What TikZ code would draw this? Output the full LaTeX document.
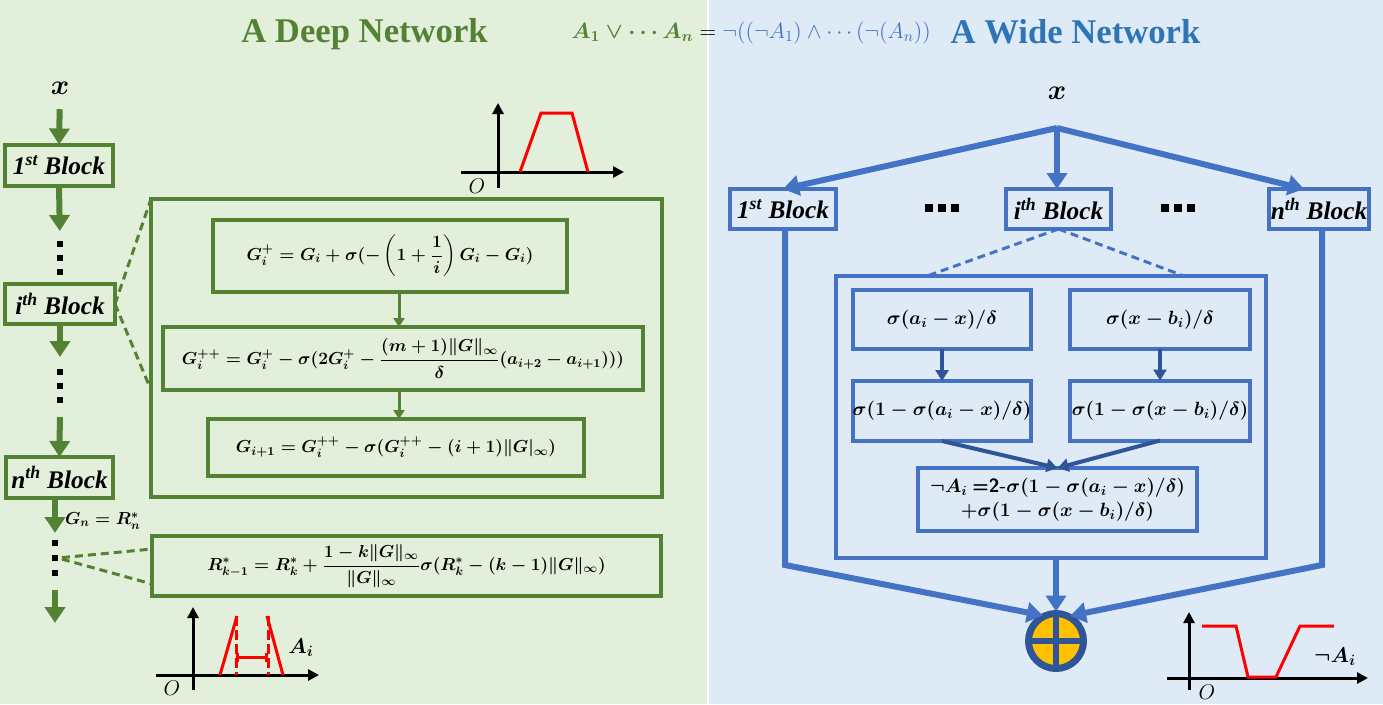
\RequirePackage{fix-cm}
\documentclass[tikz,border=0pt]{standalone}
\usepackage{amsmath,amssymb}
\usepackage{xcolor}
\usepackage{fontspec}
\setmainfont{Liberation Serif}
\usepackage{tikz}
\usetikzlibrary{arrows.meta}
\usetikzlibrary{positioning}

\newdimen\pxu
\pxu=0.75pt

\definecolor{deepgreen}{RGB}{84,130,53}
\definecolor{greenbg}{RGB}{226,239,218}
\definecolor{bluebg}{RGB}{222,235,247}
\definecolor{wideblue}{RGB}{68,114,196}
\definecolor{titleblue}{RGB}{46,117,182}
\definecolor{darkblue}{RGB}{47,85,151}
\definecolor{sumgold}{RGB}{255,192,0}

\begin{document}
\begin{tikzpicture}[
  x=0.75pt, y=-0.75pt,
  every node/.style={inner sep=0pt, outer sep=0pt},
  gbox/.style={draw=deepgreen, line width=4\pxu},
  bbox/.style={draw=wideblue, line width=4\pxu},
  blocklbl/.style={font=\fontsize{19}{22}\selectfont\bfseries\itshape},
  geq/.style={font=\fontsize{13}{16}\selectfont\boldmath},
  beq/.style={font=\fontsize{14.4}{17}\selectfont\boldmath},
  gthick/.style={draw=deepgreen, line width=6\pxu, -{Triangle[width=15pt,length=12pt]}},
  gthin/.style={draw=deepgreen, line width=3\pxu, -{Triangle[width=8.25pt,length=6.75pt]}},
  gdash/.style={draw=deepgreen, line width=3\pxu, dash pattern=on 8\pxu off 5\pxu},
  bdash/.style={draw=wideblue, line width=3\pxu, dash pattern=on 8\pxu off 5\pxu},
  bthick/.style={draw=wideblue, line width=6\pxu, -{Triangle[width=15pt,length=12pt]}},
  bthin/.style={draw=darkblue, line width=4\pxu, -{Triangle[width=9.75pt,length=8.25pt]}},
  sqdot/.style={fill=black, minimum size=6\pxu},
  axis/.style={draw=black, line width=3\pxu, -{Triangle[width=8.25pt,length=8.25pt]}},
  curve/.style={draw=red, line width=3\pxu},
  plotlbl/.style={font=\fontsize{16}{18}\selectfont},
]
\useasboundingbox (0,0) rectangle (1383,704);
\fill[greenbg] (0,0) rectangle (707,704);
\fill[white] (707,0) rectangle (709,704);
\fill[bluebg] (709,0) rectangle (1383,704);

% titles
\node[anchor=base, text=deepgreen, font=\fontsize{26}{30}\selectfont\bfseries] (deeptitle) at (364.5,42) {A Deep Network};
\node[anchor=base, text=titleblue, font=\fontsize{26}{30}\selectfont\bfseries] (widetitle) at (1075.5,43) {A Wide Network};
\node[font=\fontsize{16.6}{19}\selectfont] (logic) at (751,33)
  {$\textcolor{deepgreen}{\boldsymbol{A_1\vee\cdots A_n}} = \textcolor{wideblue}{\neg((\neg A_1)\wedge\cdots(\neg(A_n))}$};

% deep network
\node[font=\fontsize{21}{24}\selectfont\boldmath] (xin) at (60,88) {$x$};
\node[gbox, blocklbl, minimum width=108\pxu, minimum height=41\pxu] (blk1) at (59,165) {1\textsuperscript{st} Block};
\node[gbox, blocklbl, minimum width=110\pxu, minimum height=40\pxu] (blki) at (60,304) {i\textsuperscript{th} Block};
\node[gbox, blocklbl, minimum width=107\pxu, minimum height=41\pxu] (blkn) at (59.5,477.5) {n\textsuperscript{th} Block};
\foreach \k/\yy in {1/244,2/258,3/272} \node[sqdot] (dA\k) at (60,\yy) {};
\foreach \k/\yy in {1/372,2/386,3/400} \node[sqdot] (dB\k) at (60,\yy) {};
\foreach \k/\yy in {1/543,2/558,3/573} \node[sqdot] (dC\k) at (55,\yy) {};
\coordinate (gend) at (55,623);

\draw[gthick, shorten <=15\pxu] (xin.south) -- (blk1.north);
\draw[gthick, shorten >=10\pxu] (blk1.south) -- (dA1.north);
\draw[gthick, shorten >=12\pxu] (blki.south) -- (dB1.north);
\draw[gthick, shorten <=14\pxu] (dB3.south) -- (blkn.north);
\draw[gthick, shorten >=7\pxu] (dC1.north |- blkn.south) -- (dC1.north);
\draw[gthick, shorten <=14\pxu] (dC3.south) -- (gend);
\node[geq, anchor=west] (gnlbl) at (65,521) {$G_n = R_n^*$};

\node[gbox, minimum width=511\pxu, minimum height=298\pxu] (gfrm) at (406.5,348) {};
\node[gbox, geq, minimum width=354\pxu, minimum height=72\pxu] (eq1) at (390,256)
  {$G_i^+ = G_i + \sigma(-\left(1+\dfrac{1}{i}\right)G_i - G_i)$};
\node[gbox, geq, minimum width=480\pxu, minimum height=63\pxu] (eq2) at (403,358.5)
  {$G_i^{++} = G_i^+ - \sigma(2G_i^+ - \dfrac{(m+1)\|G\|_\infty}{\delta}(a_{i+2} - a_{i+1})))$};
\node[gbox, geq, minimum width=376\pxu, minimum height=57\pxu] (eq3) at (396,447.5)
  {$G_{i+1} = G_i^{++} - \sigma(G_i^{++} - (i+1)\|G|_\infty)$};
\node[gbox, geq, minimum width=509\pxu, minimum height=60\pxu] (rfrm) at (406.5,566)
  {$R^*_{k-1} = R^*_k + \dfrac{1-k\|G\|_\infty}{\|G\|_\infty}\sigma(R^*_k - (k-1)\|G\|_\infty)$};
\draw[gthin] (eq1.south -| 399,0) -- (eq2.north -| 399,0);
\draw[gthin] (eq2.south -| 399,0) -- (eq3.north -| 399,0);

\draw[gdash] (blki.east) -- (gfrm.north west);
\draw[gdash] (blki.east) -- (gfrm.west |- eq2.south);
\draw[gdash, shorten <=4\pxu] (dC2.east) -- ([yshift=-13\pxu]rfrm.north west);
\draw[gdash, shorten <=4\pxu] (dC2.east) -- ([yshift=12\pxu]rfrm.south west);

% deep plots
\draw[axis] (461,172) -- (624,172);
\draw[axis] (498,188) -- (498,103);
\draw[curve] (520,172) -- (541,113) -- (572,113) -- (588,172);
\node[plotlbl] (oA) at (477,186) {$O$};

\draw[axis] (156,675) -- (319,675);
\draw[axis] (193,690) -- (193,607);
\draw[curve] (220,675) -- (237,616);
\draw[curve] (283,675) -- (267,616);
\draw[curve, dash pattern=on 10\pxu off 4\pxu] (236,616) -- (236,675);
\draw[curve, dash pattern=on 10\pxu off 4\pxu] (268,616) -- (268,675);
\draw[curve, {Bar[width=6.75pt]}-{Bar[width=6.75pt]}] (236,657) -- (268,657);
\node[plotlbl, font=\fontsize{16}{18}\selectfont\boldmath] (aiA) at (301,648) {$A_i$};
\node[plotlbl] (oB) at (172,688) {$O$};

% wide network
\node[font=\fontsize{21}{24}\selectfont\boldmath] (xw) at (1057,93) {$x$};
\coordinate (fork) at (1057,128);
\node[bbox, blocklbl, minimum width=106\pxu, minimum height=40\pxu] (wb1) at (783,209) {1\textsuperscript{st} Block};
\node[bbox, blocklbl, minimum width=105\pxu, minimum height=40\pxu] (wbi) at (1058.5,209) {i\textsuperscript{th} Block};
\node[bbox, blocklbl, minimum width=100\pxu, minimum height=40\pxu] (wbn) at (1319,209) {n\textsuperscript{th} Block};
\foreach \k/\xx in {1/929,2/942,3/955} \node[sqdot, minimum size=8\pxu] (wdL\k) at (\xx,208) {};
\foreach \k/\xx in {1/1165,2/1178,3/1191} \node[sqdot, minimum size=8\pxu] (wdR\k) at (\xx,208) {};

\draw[bthick] (fork) -- (wb1.north);
\draw[bthick] (fork) -- (fork |- wbi.north);
\draw[bthick] (fork) -- ([xshift=-15\pxu]wbn.north);

\node[bbox, minimum width=430\pxu, minimum height=282\pxu] (wfrm) at (1051,417) {};
\node[bbox, beq, minimum width=178\pxu, minimum height=59\pxu] (wa) at (942,319.5) {$\sigma(a_i - x)/\delta$};
\node[bbox, beq, minimum width=180\pxu, minimum height=59\pxu] (wb) at (1160,319.5) {$\sigma(x - b_i)/\delta$};
\node[bbox, beq, minimum width=178\pxu, minimum height=60\pxu] (wc) at (942,411) {$\sigma(1 - \sigma(a_i - x)/\delta)$};
\node[bbox, beq, minimum width=180\pxu, minimum height=60\pxu] (wd) at (1160,410.5) {$\sigma(1 - \sigma(x - b_i)/\delta)$};
\node[bbox, beq, minimum width=279\pxu, minimum height=63\pxu, align=center] (we) at (1057.5,499.5)
  {$\neg A_i$ \textsf{\textbf{=2-}}$\sigma(1 - \sigma(a_i - x)/\delta)$\\[1pt] $+\sigma(1 - \sigma(x - b_i)/\delta)$};
\draw[bthin] (wa.south) -- (wc.north);
\draw[bthin] (wb.south) -- (wd.north);
\draw[bthin] (wc.south) -- (we.north);
\draw[bthin] (wd.south) -- (we.north);

\draw[bdash] (wbi.south) -- (wfrm.north -| 927,0);
\draw[bdash] (wbi.south) -- (wfrm.north -| 1184,0);

\node[circle, draw=darkblue, fill=sumgold, line width=7\pxu, minimum size=55\pxu] (sum) at (1056,641) {};
\draw[darkblue, line width=6\pxu] (sum.north) -- (sum.south) (sum.west) -- (sum.east);
\coordinate (lbend) at (785,565);
\coordinate (rbend) at (1322,565);
\draw[bthick, shorten >=2\pxu] (lbend |- wb1.south) -- (lbend) -- (sum.114);
\draw[bthick, shorten >=2\pxu] (rbend |- wbn.south) -- (rbend) -- (sum.64);
\draw[bthick, shorten >=2\pxu] (sum.north |- wfrm.south) -- (sum.north);

% wide plot
\draw[axis] (1167,678) -- (1368,678);
\draw[axis] (1189,690) -- (1189,612);
\draw[curve] (1202,626) -- (1236,626) -- (1248,677) -- (1276,677) -- (1300,626) -- (1334,626);
\node[plotlbl, font=\fontsize{16}{18}\selectfont\boldmath] (naiW) at (1335,657) {$\neg A_i$};
\node[plotlbl] (oC) at (1207,692) {$O$};
\end{tikzpicture}
\end{document}
